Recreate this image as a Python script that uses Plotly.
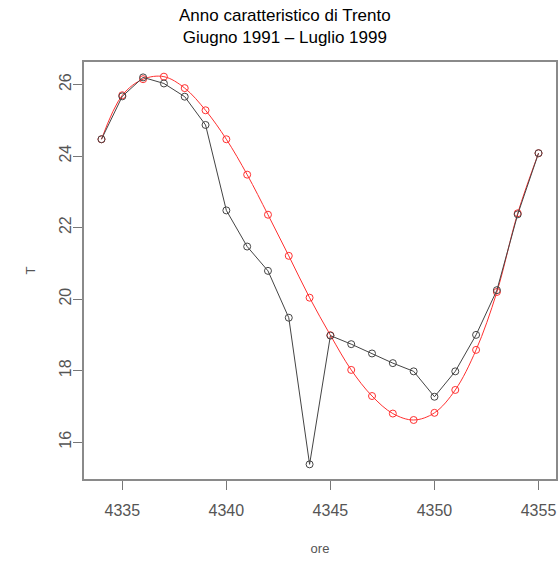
import plotly.graph_objects as go

hours = [4334, 4335, 4336, 4337, 4338, 4339, 4340, 4341, 4342, 4343, 4344,
         4345, 4346, 4347, 4348, 4349, 4350, 4351, 4352, 4353, 4354, 4355]
t_observed = [24.47, 25.67, 26.20, 26.03, 25.66, 24.87, 22.48, 21.47, 20.79, 19.48, 15.38,
              18.98, 18.74, 18.48, 18.21, 17.98, 17.27, 17.98, 19.00, 20.25, 22.37, 24.08]
t_smooth = [24.47, 25.70, 26.15, 26.22, 25.90, 25.28, 24.47, 23.48, 22.36, 21.21, 20.04,
            18.99, 18.02, 17.29, 16.80, 16.62, 16.82, 17.46, 18.58, 20.20, 22.40, 24.08]
x_ticks = [4335, 4340, 4345, 4350, 4355]
y_ticks = [16, 18, 20, 22, 24, 26]
title_lines = ["Anno caratteristico di Trento", "Giugno 1991 – Luglio 1999"]

fig = go.Figure()
fig.add_trace(go.Scatter(
    x=hours, y=t_smooth, mode="lines+markers",
    line=dict(color="#ff3030", width=1, shape="spline", smoothing=1.0),
    marker=dict(symbol="circle-open", size=7, color="#ff3030", line=dict(width=1)),
    showlegend=False,
))
fig.add_trace(go.Scatter(
    x=hours, y=t_observed, mode="lines+markers",
    line=dict(color="#444444", width=1),
    marker=dict(symbol="circle-open", size=7, color="#444444", line=dict(width=1)),
    showlegend=False,
))

axis_common = dict(
    showline=True, linecolor="#8a8a8a", linewidth=1.5, mirror=True,
    showgrid=False, zeroline=False, ticks="outside", ticklen=9, tickwidth=1,
    tickcolor="#777777",
    tickfont=dict(family="Liberation Sans, Arial, sans-serif", size=16, color="#555555"),
)
fig.update_xaxes(range=[4333.16, 4355.84], tickvals=x_ticks, ticklabelstandoff=7,
                 title=dict(text="ore", standoff=26,
                            font=dict(family="Liberation Sans, Arial", size=13, color="#555555")),
                 **axis_common)
fig.update_yaxes(range=[14.97, 26.63], tickvals=y_ticks, tickangle=-90, ticklabelstandoff=-4,
                 title=dict(text="T", standoff=18,
                            font=dict(family="Liberation Sans, Arial", size=13, color="#555555")),
                 **axis_common)

fig.add_annotation(text=title_lines[0] + "<br>" + title_lines[1], showarrow=False,
                   xref="paper", yref="paper", x=(286 - 84) / 474, y=1,
                   yshift=36, yanchor="middle", xanchor="center",
                   font=dict(family="Liberation Sans Narrow, Arial Narrow, Liberation Sans", size=17, color="#000000"))

fig.update_layout(
    width=560, height=561,
    margin=dict(l=84, r=2, t=62, b=82),
    paper_bgcolor="white", plot_bgcolor="white",
)
fig.write_html("out.html")
